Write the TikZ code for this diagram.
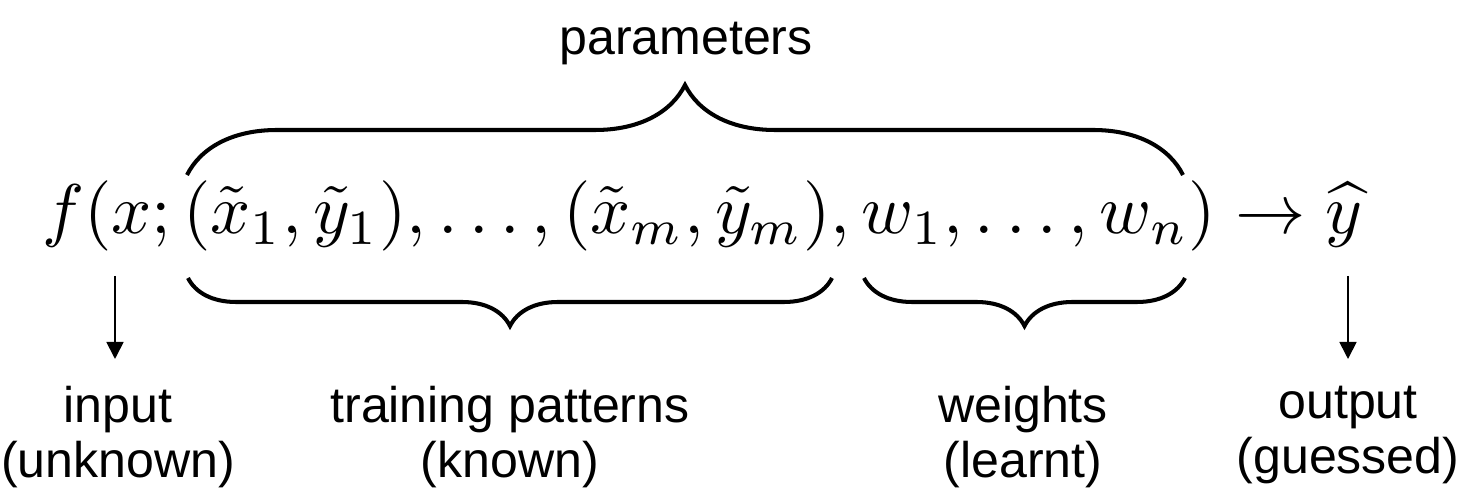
\documentclass[tikz,border=0pt]{standalone}
\usepackage{amsmath}
\usepackage{graphicx}
\usepackage{fontspec}
\newfontfamily\lblfont{Liberation Sans}
\usetikzlibrary{arrows.meta,positioning,decorations.pathreplacing}
\tikzset{
  lbl/.style={font=\lblfont\fontsize{28.5}{31}\selectfont,align=center,inner sep=0pt,anchor=north},
  brc/.style={decorate,line width=2.3pt,decoration={brace,amplitude=#1}},
  arr/.style={-{Triangle[length=0.34cm,width=0.34cm]},line width=1pt,shorten >=0.54cm}
}

\begin{document}
\begin{tikzpicture}[x=1cm,y=1cm]
\useasboundingbox (0,0) rectangle (29.26,9.76);
\node[anchor=base west,inner sep=0pt] (formula) at (0.84,5.08)
  {\resizebox{26.4cm}{!}{$f(x;(\tilde{x}_1,\tilde{y}_1),\ldots,(\tilde{x}_m,\tilde{y}_m),w_1,\ldots,w_n)\to\widehat{y}$}};
% brace ends and arrow tails
\coordinate (par-l) at (3.74,6.26);
\coordinate (par-r) at (23.66,6.26);
\coordinate (pat-l) at (3.76,4.2);
\coordinate (pat-r) at (16.64,4.2);
\coordinate (wgt-l) at (17.28,4.2);
\coordinate (wgt-r) at (23.7,4.2);
\coordinate (in-top) at (2.3,4.24);
\coordinate (out-top) at (26.96,4.24);
% labels
\node[lbl,anchor=center] (params) at (13.72,8.88) {parameters};
\node[lbl] (input) at (2.36,2.04) {input\\(unknown)};
\node[lbl] (training) at (10.2,2.04) {training patterns\\(known)};
\node[lbl] (weights) at (20.46,2.04) {weights\\(learnt)};
\node[lbl] (output) at (26.96,2.04) {output\\(guessed)};
% braces
\draw[brc=1.8cm] (par-l) -- (par-r);
\draw[brc=0.96cm] (pat-r) -- (pat-l);
\draw[brc=0.96cm] (wgt-r) -- (wgt-l);
% arrows
\draw[arr] (in-top) -- (input.north-|in-top);
\draw[arr] (out-top) -- (output.north);
\end{tikzpicture}
\end{document}
